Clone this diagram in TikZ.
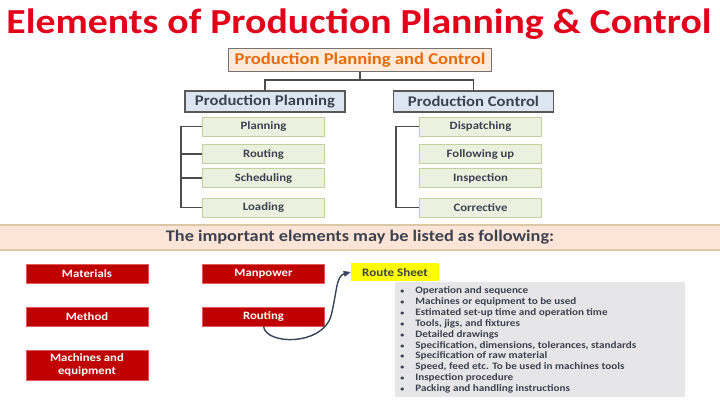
\documentclass[tikz,border=0pt]{standalone}
\usepackage{fontspec}
\setmainfont{Carlito}[FakeStretch=1.13]
\usetikzlibrary{shapes.geometric, arrows.meta, positioning, calc}

\definecolor{titlered}{RGB}{226,0,26}
\definecolor{peach}{RGB}{253,234,218}
\definecolor{orangetxt}{RGB}{228,108,10}
\definecolor{paleblue}{RGB}{220,230,242}
\definecolor{palegreen}{RGB}{235,241,222}
\definecolor{greenedge}{RGB}{190,210,160}
\definecolor{darktxt}{RGB}{60,66,80}
\definecolor{bandfill}{RGB}{252,228,214}
\definecolor{bandline}{RGB}{216,200,168}
\definecolor{darkred}{RGB}{192,0,0}
\definecolor{rededge}{RGB}{225,90,90}
\definecolor{sheetyellow}{RGB}{255,255,0}
\definecolor{listgrey}{RGB}{230,230,232}
\definecolor{curvecol}{RGB}{55,70,88}

\begin{document}
\begin{tikzpicture}[x=0.025cm, y=-0.025cm,
  mainbox/.style={rectangle,draw=gray!90!black,fill=peach,line width=0.9pt, minimum width=6.575cm,minimum height=0.575cm,inner sep=0pt,font=\fontsize{11.7}{13}\selectfont\bfseries,text=orangetxt},
  headbox/.style={rectangle,draw=black!65,fill=paleblue,line width=1pt, minimum width=4cm,minimum height=0.525cm,inner sep=0pt,font=\fontsize{10.5}{12}\selectfont\bfseries,text=darktxt},
  subbox/.style={rectangle,draw=greenedge,fill=palegreen,line width=0.6pt, minimum width=3.05cm,minimum height=0.475cm,inner sep=0pt,font=\fontsize{8}{9}\selectfont\bfseries,text=darktxt},
  elembox/.style={rectangle,draw=rededge,fill=darkred,line width=0.6pt, minimum width=3.05cm,minimum height=0.475cm,inner sep=0pt,align=center,font=\fontsize{8}{9}\selectfont\bfseries,text=white},
  link/.style={line width=1pt, black!70},
  curve/.style={-{Triangle[length=5pt,width=4pt]},line width=1pt, curvecol}
]
  \useasboundingbox (0,0) rectangle (720,404);
  % title
  \node[font=\fontsize{25}{30}\selectfont\bfseries, text=titlered, inner sep=0pt] (title) at (359,24) {Elements of Production Planning \& Control};

  % tree
  \node[mainbox] (ppc)   at (360,60)    {Production Planning and Control};
  \node[headbox] (pp)    at (265,101.5) {Production Planning};
  \node[headbox] (pc)    at (473.5,101.5) {Production Control};
  \node[subbox]  (plan)  at (263.5,126.5) {Planning};
  \node[subbox]  (rout)  at (263.5,154)   {Routing};
  \node[subbox]  (sched) at (263.5,178)   {Scheduling};
  \node[subbox]  (load)  at (263.5,207.5) {Loading};
  \node[subbox]  (disp)  at (480.5,126.5) {Dispatching};
  \node[subbox]  (follow) at (480.5,154)  {Following up};
  \node[subbox]  (insp)  at (480.5,178)   {Inspection};
  \node[subbox]  (corr)  at (480.5,207.5) {Corrective};
  \draw[link] (ppc.south) -- ++(0,8) -| (pp.north);
  \draw[link] (ppc.south) -- ++(0,8) -| (pc.north);
  \draw[link] (plan.west) -- ++(-21,0) |- (load.west);
  \foreach \n in {rout,sched} \draw[link] (\n.west) -- ++(-21,0);
  \draw[link] (disp.west) -- ++(-23,0) |- (corr.west);

  % band
  \node[fill=bandfill, minimum width=18cm, minimum height=0.625cm, inner sep=0pt, font=\fontsize{11.5}{13}\selectfont\bfseries, text=darktxt] (band) at (360,237.5) {The important elements may be listed as following:};
  \draw[bandline, line width=1.2pt] (band.north west) -- (band.north east);
  \draw[bandline, line width=1.2pt] (band.south west) -- (band.south east);

  % elements
  \node[elembox] (mat)   at (87,273.5)    {Materials};
  \node[elembox] (meth)  at (87,316.5)    {Method};
  \node[elembox, minimum height=0.75cm] (mach) at (87,365) {Machines and\\equipment};
  \node[elembox] (man)   at (263.5,273.5) {Manpower};
  \node[elembox] (rt)    at (263.5,316.5) {Routing};

  % route sheet
  \node[rectangle,fill=sheetyellow,minimum width=2.2cm,minimum height=0.45cm,inner sep=0pt,font=\fontsize{8.2}{10}\selectfont\bfseries,text=darktxt] (sheet) at (395,272) {Route Sheet};
  \node[rectangle,fill=listgrey,minimum width=7.25cm,minimum height=2.875cm,inner sep=0pt] (rsbox) at (540,339.5) {};
  \node[anchor=north west, inner sep=0pt, text=darktxt, font=\fontsize{7}{7.7}\selectfont\bfseries] (rslist) at (400,286) {%
    \begin{tabular}{@{}p{10.7pt}@{}l@{}}
      {\tiny\textbullet} & Operation and sequence\\
      {\tiny\textbullet} & Machines or equipment to be used\\
      {\tiny\textbullet} & Estimated set-up time and operation time\\
      {\tiny\textbullet} & Tools, jigs, and fixtures\\
      {\tiny\textbullet} & Detailed drawings\\
      {\tiny\textbullet} & Specification, dimensions, tolerances, standards\\
      {\tiny\textbullet} & Specification of raw material\\
      {\tiny\textbullet} & Speed, feed etc. To be used in machines tools\\
      {\tiny\textbullet} & Inspection procedure\\
      {\tiny\textbullet} & Packing and handling instructions
    \end{tabular}};
  \draw[curve] (rt.south) .. controls (266,345) and (322,346) .. (331,316) .. controls (337,292) and (336,276) .. (sheet.west);
\end{tikzpicture}
\end{document}
